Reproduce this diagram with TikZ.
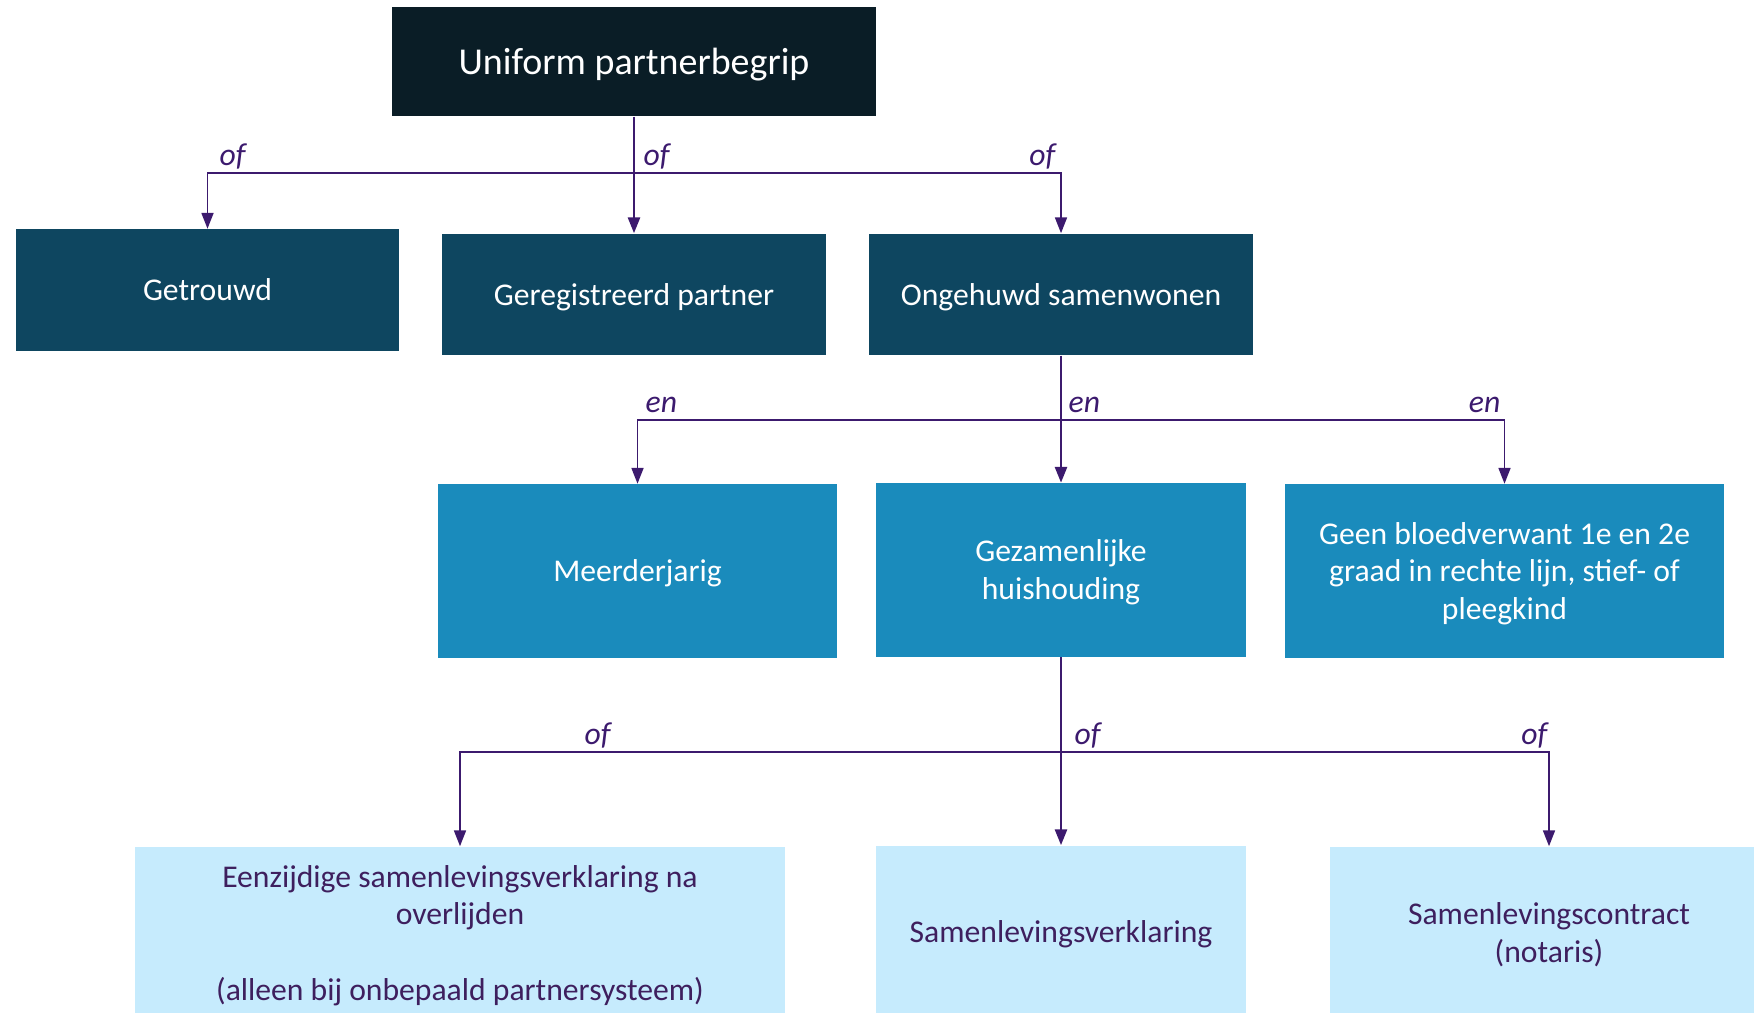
\documentclass[tikz,border=0pt]{standalone}
\usepackage{fontspec}
\setmainfont{Carlito}
\usetikzlibrary{arrows.meta,positioning}

\definecolor{topdark}{HTML}{0A1D26}
\definecolor{statusblue}{HTML}{0E4660}
\definecolor{condblue}{HTML}{1A8BBC}
\definecolor{formblue}{HTML}{C6EBFD}
\definecolor{linkpurple}{HTML}{3C1A6E}
\definecolor{formtext}{HTML}{3E1F5E}

\begin{document}
\begin{tikzpicture}[
    x=0.01cm, y=-0.01cm,
    box/.style={rectangle, inner sep=0pt, align=center, text depth=0pt, font=\fontsize{9}{10.8}\selectfont},
    topbox/.style={box, fill=topdark, text=white, minimum width=4.84cm, minimum height=1.09cm, font=\fontsize{10.8}{13}\selectfont},
    statusbox/.style={box, fill=statusblue, text=white, minimum width=3.83cm, minimum height=1.21cm},
    condbox/.style={box, fill=condblue, text=white, minimum height=1.73cm},
    formbox/.style={box, fill=formblue, text=formtext, minimum height=1.72cm},
    link/.style={-{Triangle[length=4.5pt, width=3.4pt]}, linkpurple, line width=0.5pt},
    stem/.style={link, line width=0.75pt},
    word/.style={inner sep=0pt, text=linkpurple, font=\fontsize{9}{10.8}\selectfont\itshape},
]
\useasboundingbox (0,0) rectangle (1754,1013);

% === Top ===
\node[topbox] (uniform) at (634,61.5) {Uniform partnerbegrip};

% === Status ===
\node[statusbox] (getrouwd) at (207.5,290) {Getrouwd};
\node[statusbox] (geregistreerd) at (634,294.5) {Geregistreerd partner};
\node[statusbox] (ongehuwd) at (1061,294.5) {Ongehuwd samenwonen};

% === Conditions ===
\node[condbox, minimum width=3.99cm] (meerderjarig) at (637.5,571) {Meerderjarig};
\node[condbox, minimum width=3.69cm] (huishouding) at (1061,570) {Gezamenlijke\\huishouding};
\node[condbox, minimum width=4.39cm] (bloedverwant) at (1504.5,571)
    {Geen bloedverwant 1e en 2e\\graad in rechte lijn, stief- of\\pleegkind};

% === Proof ===
\node[formbox, minimum width=6.5cm] (eenzijdig) at (460,933)
    {Eenzijdige samenlevingsverklaring na\\overlijden\\[10.8pt](alleen bij onbepaald partnersysteem)};
\node[formbox, minimum width=3.69cm] (verklaring) at (1061,932) {Samenlevingsverklaring};
\node[formbox, minimum width=4.38cm] (contract) at (1549,933) {Samenlevingscontract\\(notaris)};

% === Connectors: of ===
\coordinate (ofa) at (634,173);
\draw[stem] (uniform.south) -- (geregistreerd.north);
\draw[link] (ofa) -| (getrouwd.north);
\draw[link] (ofa) -| (ongehuwd.north);
\node[word, anchor=base west] (ofa1) at (219,166) {of};
\node[word, anchor=base west] (ofa2) at (643,166) {of};
\node[word, anchor=base east] (ofa3) at (1056,166) {of};

% === Connectors: en ===
\coordinate (enb) at (1061,420);
\draw[stem] (ongehuwd.south) -- (huishouding.north);
\draw[link] (enb) -| (meerderjarig.north);
\draw[link] (enb) -| (bloedverwant.north);
\node[word, anchor=base west] (enb1) at (645,413) {en};
\node[word, anchor=base west] (enb2) at (1068,413) {en};
\node[word, anchor=base east] (enb3) at (1501,413) {en};

% === Connectors: of ===
\coordinate (ofc) at (1061,752);
\draw[stem] (huishouding.south) -- (verklaring.north);
\draw[link] (ofc) -| (eenzijdig.north);
\draw[link] (ofc) -| (contract.north);
\node[word, anchor=base west] (ofc1) at (584,745) {of};
\node[word, anchor=base west] (ofc2) at (1074,745) {of};
\node[word, anchor=base east] (ofc3) at (1548,745) {of};

\end{tikzpicture}
\end{document}
